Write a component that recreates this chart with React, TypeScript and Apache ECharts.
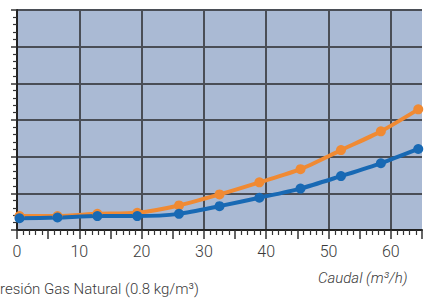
import React, { useEffect, useRef } from "react";
import * as echarts from "echarts";

// Caudal (m³/h) at each measured point
const caudal = [0.4, 6.5, 12.9, 19.3, 26, 32.5, 38.9, 45.5, 52, 58.4, 64.4];
// Pressure-drop curves (arbitrary units, y axis has no labels)
const serieAzul = [0.32, 0.34, 0.38, 0.38, 0.44, 0.65, 0.88, 1.13, 1.47, 1.82, 2.21];
const serieNaranja = [0.38, 0.38, 0.44, 0.47, 0.67, 0.97, 1.3, 1.66, 2.18, 2.69, 3.29];
const xTickLabels = ["0", "10", "20", "30", "40", "50", "60"];

const FONT = "Roboto, 'Liberation Sans', sans-serif";

export default function App() {
  const ref = useRef<HTMLDivElement>(null);
  useEffect(() => {
    document.body.style.margin = "0";
    const chart = echarts.init(ref.current!, null, { renderer: "svg" });
    const pairs = (ys: number[]) => caudal.map((x, i) => [x, ys[i]]);
    chart.setOption({
      animation: false,
      grid: {
        left: 17,
        right: 8,
        top: 10,
        bottom: 68,
        show: true,
        backgroundColor: "#aabad4",
        borderWidth: 0,
      },
      xAxis: {
        type: "value",
        min: 0,
        max: 65,
        interval: 5,
        axisLine: { show: true, onZero: false, lineStyle: { color: "#222", width: 2 } },
        axisTick: { show: true, length: 9, lineStyle: { color: "#333", width: 1.5 } },
        minorTick: { show: true, splitNumber: 5, length: 5, lineStyle: { color: "#333", width: 1.2 } },
        axisLabel: {
          show: true,
          margin: 13,
          fontSize: 16,
          fontFamily: FONT,
          fontWeight: 300,
          color: "#3a3a3a",
          showMaxLabel: false,
          formatter: (v: number) => {
            const s = String(v);
            return xTickLabels.indexOf(s) >= 0 ? s : "";
          },
        },
        splitLine: {
          show: true,
          showMaxLine: false,
          lineStyle: { color: ["#4a4e56", "rgba(0,0,0,0)"], width: 2 },
        },
      },
      yAxis: {
        type: "value",
        min: 0,
        max: 6,
        interval: 1,
        axisLine: { show: true, lineStyle: { color: "#222", width: 2 } },
        axisTick: { show: true, length: 6, lineStyle: { color: "#333", width: 1.5 } },
        minorTick: { show: true, splitNumber: 5, length: 4, lineStyle: { color: "#333", width: 1.2 } },
        axisLabel: { show: false },
        splitLine: { show: true, lineStyle: { color: "#4a4e56", width: 2 } },
      },
      series: [
        {
          type: "line",
          data: pairs(serieNaranja),
          smooth: 0.25,
          symbol: "circle",
          symbolSize: 10,
          lineStyle: { color: "#f08a33", width: 4 },
          itemStyle: { color: "#f08a33" },
        },
        {
          type: "line",
          data: pairs(serieAzul),
          smooth: 0.25,
          symbol: "circle",
          symbolSize: 10,
          lineStyle: { color: "#1869b4", width: 4 },
          itemStyle: { color: "#1869b4" },
        },
      ],
      graphic: [
        {
          type: "text",
          left: 0,
          top: 281,
          style: {
            text: "resión Gas Natural (0.8 kg/m³)",
            fontSize: 15,
            fontFamily: FONT,
            fontWeight: 300,
            fill: "#3a3a3a",
          },
        },
        {
          type: "text",
          left: 318,
          top: 270,
          style: {
            text: "Caudal (m³/h)",
            fontSize: 15,
            fontStyle: "italic",
            fontFamily: FONT,
            fontWeight: 300,
            fill: "#3a3a3a",
          },
        },
      ],
    });
    return () => chart.dispose();
  }, []);
  return <div ref={ref} style={{ width: 430, height: 298 }} />;
}
